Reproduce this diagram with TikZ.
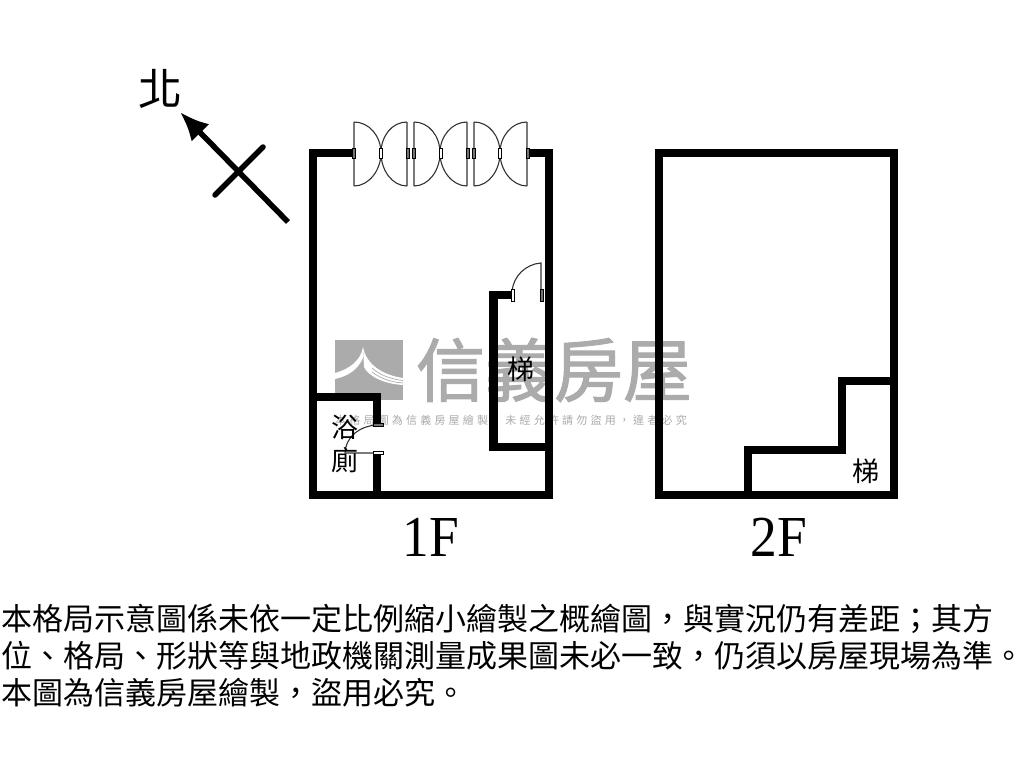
\documentclass[tikz,border=0pt]{standalone}
\usepackage{fontspec}
\usepackage{tikz}
\usetikzlibrary{arrows.meta}
\newfontfamily\cjkfont{Noto Sans CJK TC}
\newfontfamily\cjkspaced[LetterSpace=29]{Noto Sans CJK TC}
\newfontfamily\brandfont[FakeBold=1.6]{Noto Sans CJK TC}
\setmainfont{Liberation Serif}
\tikzset{
  wall/.style={line width=8.5pt,line join=miter,black},
  doorline/.style={line width=1.1pt,black!80},
  jamb/.style={draw=black,fill=white,line width=1pt},
  darkjamb/.style={draw=black,fill=black!55,line width=1pt},
  roomlabel/.style={inner sep=0pt,font=\cjkfont\fontsize{27}{27}\selectfont},
  floorlabel/.style={inner sep=0pt,xscale=0.92,font=\fontsize{58}{58}\selectfont},
  noteline/.style={inner sep=0pt,anchor=west,font=\cjkfont\fontsize{31}{31}\selectfont},
  logogray/.style={black!33},
}
\begin{document}
\begin{tikzpicture}[x=1pt,y=-1pt]
\useasboundingbox[fill=white] (0,0) rectangle (1024,768);

% logo
\fill[logogray] (335,340) rectangle (403,400);
\fill[white] (363,347) .. controls (361,360) and (350,369) .. (335,373) -- (335,379) .. controls (349,376) and (358,369) .. (363,358) -- cycle;
\fill[white] (363,347) .. controls (366,364) and (382,375) .. (403,378) -- (403,385) .. controls (384,384) and (368,376) .. (364,367) -- cycle;
\draw[logogray,line width=0.7pt] (372,368) .. controls (380,375) and (390,379) .. (403,380.5);
\draw[logogray,line width=0.7pt] (372,372) .. controls (380,378) and (390,382) .. (403,383);
\node[logogray,inner sep=0pt,font=\brandfont\fontsize{69}{69}\selectfont] (brand) at (554,370) {信義房屋};
\node[logogray,inner sep=0pt,anchor=west,font=\cjkspaced\fontsize{11}{11}\selectfont] (notice) at (335,420) {本格局圖為信義房屋繪製，未經允許請勿盜用，違者必究};

% north
\draw[-{Latex[length=29pt,width=25pt]},line width=5.5pt] (288,222) -- (180,112);
\draw[line width=5.5pt,line cap=round] (215,195) -- (263,147);
\node[inner sep=0pt,font=\cjkfont\fontsize{44}{44}\selectfont] (north) at (160,89) {北};

% 1F
\draw[wall] (352,153) -- (313,153) -- (313,495) -- (549,495) -- (549,153) -- (530,153);
\draw[wall] (512,295) -- (493.5,295) -- (493.5,447) -- (549,447);
\draw[wall] (313,397) -- (377,397) -- (377,425);
\draw[wall] (377,453) -- (377,495);

% front doors
\draw[doorline] (354,122) -- (354,186) (354,122) .. controls (369,122) and (381,136) .. (381,153) .. controls (381,170) and (369,186) .. (354,186);
\draw[doorline] (407,122) -- (407,186) (407,122) .. controls (392,122) and (381,136) .. (381,153) .. controls (381,170) and (392,186) .. (407,186);
\draw[doorline] (414,122) -- (414,186) (414,122) .. controls (429,122) and (440,136) .. (440,153) .. controls (440,170) and (429,186) .. (414,186);
\draw[doorline] (467,122) -- (467,186) (467,122) .. controls (452,122) and (440,136) .. (440,153) .. controls (440,170) and (452,186) .. (467,186);
\draw[doorline] (474,122) -- (474,186) (474,122) .. controls (489,122) and (500,136) .. (500,153) .. controls (500,170) and (489,186) .. (474,186);
\draw[doorline] (527,122) -- (527,186) (527,122) .. controls (512,122) and (500,136) .. (500,153) .. controls (500,170) and (512,186) .. (527,186);
\draw[darkjamb] (352,148) rectangle (355,158);
\draw[jamb] (379,148) rectangle (382,158);
\draw[darkjamb] (406,148) rectangle (409,158);
\draw[darkjamb] (412,148) rectangle (415,158);
\draw[jamb] (439,148) rectangle (442,158);
\draw[darkjamb] (466,148) rectangle (469,158);
\draw[darkjamb] (472,148) rectangle (475,158);
\draw[jamb] (498,148) rectangle (501,158);
\draw[darkjamb] (526,148) rectangle (529,158);

% stair door
\draw[doorline] (512,292) .. controls (513,276) and (526,264) .. (541,263) -- (541,292);
\draw[jamb] (511,289) rectangle (514,301);
\draw[darkjamb] (540,289) rectangle (543,301);

% bath door
\draw[doorline] (377,425) .. controls (360,426) and (346,436) .. (345,453) -- (377,453);
\draw[darkjamb] (373,423.5) rectangle (383,426.5);
\draw[jamb] (373,451.5) rectangle (383,454.5);

% 2F
\draw[wall] (659,153) rectangle (894,495);
\draw[wall] (748,495) -- (748,450) -- (842,450) -- (842,381) -- (894,381);

% labels
\node[roomlabel] (stair1) at (521,369) {梯};
\node[roomlabel] (bath1) at (345,427) {浴};
\node[roomlabel] (bath2) at (345,460) {廁};
\node[roomlabel] (stair2) at (866,471) {梯};
\node[floorlabel] (first) at (431,537) {1F};
\node[floorlabel] (second) at (779,537) {2F};

% note
\node[noteline] (note1) at (1,619) {本格局示意圖係未依一定比例縮小繪製之概繪圖，與實況仍有差距；其方};
\node[noteline] (note2) at (1,656) {位、格局、形狀等與地政機關測量成果圖未必一致，仍須以房屋現場為準。};
\node[noteline] (note3) at (1,693) {本圖為信義房屋繪製，盜用必究。};
\end{tikzpicture}
\end{document}
